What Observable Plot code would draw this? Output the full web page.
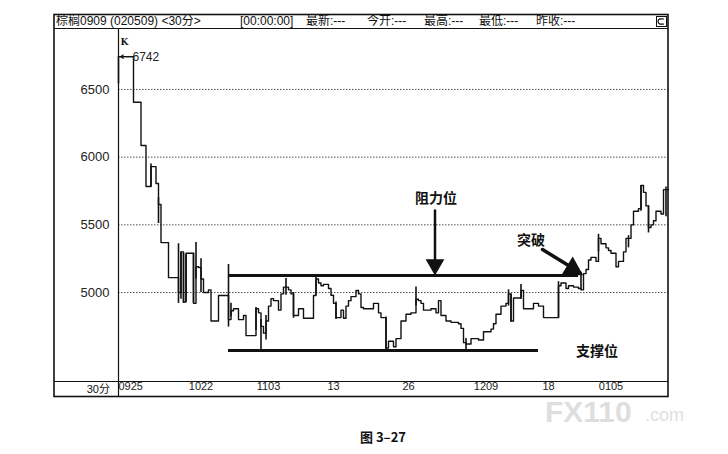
<!DOCTYPE html>
<html><head><meta charset="utf-8">
<script src="https://cdn.jsdelivr.net/npm/d3@7"></script>
<script src="https://cdn.jsdelivr.net/npm/@observablehq/plot@0.6"></script>
<style>body{margin:0;background:#fff} svg{display:block}</style>
</head><body><div id="chart"></div>
<script>
// Close-price step path: bar index and price
const stepBar = [0,6,9,11,13,15,16,17,20,24,25,26,27,30,31,32,33,34,36,37,40,44,45,46,48,50,51,55,56,57,58,59,60,61,62,64,65,66,68,69,70,72,74,78,79,80,81,82,84,85,86,87,89,90,91,92,93,95,96,97,98,102,104,105,107,108,110,111,113,115,117,119,120,121,122,125,127,128,129,131,133,136,137,138,139,141,144,146,149,150,151,153,155,156,157,158,160,161,162,166,168,170,176,177,179,180,182,184,185,186,187,188,189,191,192,193,195,196,197,199,200,202,203,205,206,208,209,210,211,212,213,214,215,217,218,220];
const stepPrice = [6742,6405,6086,5783,5930,5805,5650,5369,5110,5000,5300,4930,5290,4920,5190,5185,5100,5000,5020,4790,4978,4800,4866,4880,4800,4830,4682,4880,4850,4750,4700,4790,4900,4955,4940,4870,4990,5040,5020,4990,4830,4880,4810,4978,5100,5070,5050,5060,5030,4980,4920,4815,4870,4810,4900,4940,4970,5015,4990,4890,4880,4920,4850,4815,4590,4640,4600,4660,4790,4840,4850,4950,4940,4920,4870,4880,4850,4940,4830,4790,4780,4770,4735,4630,4620,4660,4650,4710,4730,4770,4840,4900,4920,4990,4790,4960,4960,5015,4880,4920,4900,4815,5050,5070,5030,5050,5040,5030,5020,5140,5170,5240,5260,5230,5400,5360,5330,5310,5290,5190,5230,5300,5400,5500,5600,5620,5790,5740,5640,5480,5500,5530,5600,5580,5760,5760];
// High-low wicks
const wickBar  = [0,13,16,24,25,26,27,30,31,33,44,45,55,57,59,67,70,79,87,107,119,139,156,157,161,176,185,192,204,209,212,219];
const wickLow  = [6540,5780,5510,4920,4950,4920,4930,4920,5100,5000,4745,4820,4720,4570,4650,4980,4810,4980,4800,4580,4900,4570,4900,4780,4950,4810,5020,5300,5330,5600,5440,5560];
const wickHigh = [6742,5950,5700,5360,5300,5290,5280,5290,5370,5250,5207,4920,4890,4800,4830,5103,5000,5120,4930,4820,5040,4660,5020,4990,5060,5080,5150,5430,5420,5790,5640,5780];
const yTicks = [5000,5500,6000,6500];
const xTickBar = [0,33,60,86,116,147,172,197];
const xTickLabel = ["0925","1022","1103","13","26","1209","18","0105"];
const levelName = ["阻力位","支撑位"];
const levelPrice = [5125,4572];
const levelStart = [44,44];
const levelEnd = [184,168];

const steps = stepBar.map((b,i)=>({bar:b, price:stepPrice[i]}));
const wicks = wickBar.map((b,i)=>({bar:b, lo:wickLow[i], hi:wickHigh[i]}));
const levels = levelName.map((n,i)=>({name:n, price:levelPrice[i], x1:levelStart[i], x2:levelEnd[i]}));
const ticks = xTickBar.map((b,i)=>({bar:b, label:xTickLabel[i]}));

const FONT = "'Liberation Sans','Noto Sans CJK SC',sans-serif";
const CJK = "'Noto Sans CJK SC',sans-serif";

const svg = Plot.plot({
  width:728, height:454,
  marginLeft:118, marginRight:60, marginTop:28, marginBottom:73,
  style:{fontFamily:FONT, fontSize:"12px", color:"#111", background:"#fff"},
  x:{domain:[0,220], axis:null},
  y:{domain:[4343,6950], axis:null},
  marks:[
    Plot.gridY(yTicks, {stroke:"#222", strokeOpacity:0.8, strokeDasharray:"1.5,1.5"}),
    Plot.axisY(yTicks, {tickSize:0, tickPadding:9, fontSize:13, fill:"#222", tickFormat:d=>String(d)}),
    Plot.text(ticks.slice(0,1), {x:"bar", text:"label", frameAnchor:"bottom", dy:8, textAnchor:"start", fontSize:11, fill:"#222"}),
    Plot.text(ticks.slice(1), {x:"bar", text:"label", frameAnchor:"bottom", dy:8, fontSize:11, fill:"#222"}),
    Plot.ruleX(wicks, {x:"bar", y1:"lo", y2:"hi", stroke:"#111", strokeWidth:1.6}),
    Plot.line(steps, {x:"bar", y:"price", curve:"step-after", stroke:"#111", strokeWidth:1.4}),
    Plot.ruleY(levels, {y:"price", x1:"x1", x2:"x2", stroke:"#111", strokeWidth:3}),
    // annotations
    Plot.text(["阻力位"], {x:[127], y:[5694], text:d=>d, fontFamily:CJK, fontWeight:"bold", fontSize:14, fill:"#111"}),
    Plot.text(["突破"], {x:[165], y:[5384], text:d=>d, fontFamily:CJK, fontWeight:"bold", fontSize:14, fill:"#111"}),
    Plot.text(["支撑位"], {x:[183], y:[4564], text:d=>d, fontFamily:CJK, fontWeight:"bold", fontSize:14, textAnchor:"start", fill:"#111"}),
    Plot.arrow([0], {x1:[126.6], y1:[5605], x2:[126.6], y2:[5240], stroke:"#111", strokeWidth:2.5, headLength:0}),
    Plot.dot([0], {x:[126.6], y:[5205], symbol:"triangle", r:6, rotate:180, fill:"#111", stroke:"#111"}),
    Plot.arrow([0], {x1:[169.6], y1:[5318], x2:[180], y2:[5200], stroke:"#111", strokeWidth:3.5, headLength:0}),
    Plot.dot([0], {x:[181.6], y:[5175], symbol:"triangle", r:7, rotate:121, fill:"#111", stroke:"#111"}),
    Plot.arrow([0], {x1:[5.6], y1:[6742], x2:[0.8], y2:[6742], stroke:"#111", strokeWidth:1.2, headLength:4}),
    Plot.text(["6742"], {x:[5.6], y:[6742], text:d=>d, textAnchor:"start", fontSize:12, fill:"#222"}),
    Plot.text(["K"], {x:[0.8], y:[6850], text:d=>d, textAnchor:"start", fontSize:9, fontWeight:"bold", fontFamily:"'DejaVu Serif',serif", fill:"#111"})
  ]
});

const s = d3.select(svg);
const g = s.append("g").attr("fill","none").attr("stroke","#111");
g.append("rect").attr("x",54).attr("y",14.5).attr("width",614).attr("height",382).attr("stroke-width",1.6);
g.append("line").attr("x1",54).attr("x2",668).attr("y1",28.5).attr("y2",28.5).attr("stroke-width",1.2);
g.append("line").attr("x1",54).attr("x2",668).attr("y1",381.5).attr("y2",381.5).attr("stroke-width",1.2);
g.append("line").attr("x1",118.5).attr("x2",118.5).attr("y1",28).attr("y2",396).attr("stroke-width",1.2);
g.append("rect").attr("x",656.5).attr("y",16.5).attr("width",10).attr("height",10).attr("stroke-width",1);
g.append("path").attr("d","M664 19 Q658 18 658 21.5 Q658 25 664 24").attr("stroke-width",1.2);

const t = s.append("g").attr("fill","#111").attr("text-anchor","start").style("font-family",FONT).style("font-size","12px");
t.append("text").attr("x",56).attr("y",25).text("棕榈0909 (020509) <30分>");
const hdr = [[240,"[00:00:00]"],[306,"最新:---"],[367,"今开:---"],[424,"最高:---"],[479,"最低:---"],[536,"昨收:---"]];
hdr.forEach(([x,txt])=>t.append("text").attr("x",x).attr("y",25).text(txt));
t.append("text").attr("x",110).attr("y",393).attr("text-anchor","end").style("font-size","11px").text("30分");

// watermark
const w = s.append("g").attr("text-anchor","start").attr("fill","#d6d6d6").attr("fill-opacity",0.8)
  .style("font-family","'Liberation Sans',sans-serif");
w.append("text").attr("x",545).attr("y",422).style("font-size","30px").style("font-weight","bold").text("FX110");
w.append("text").attr("x",645).attr("y",421).style("font-size","18px").text(".com");

// caption
s.append("text").attr("x",383).attr("y",442).attr("text-anchor","middle").attr("fill","#111")
  .style("font-family",CJK).style("font-size","13px").style("font-weight","bold").text("图 3–27");

document.getElementById("chart").appendChild(svg);
</script></body></html>
